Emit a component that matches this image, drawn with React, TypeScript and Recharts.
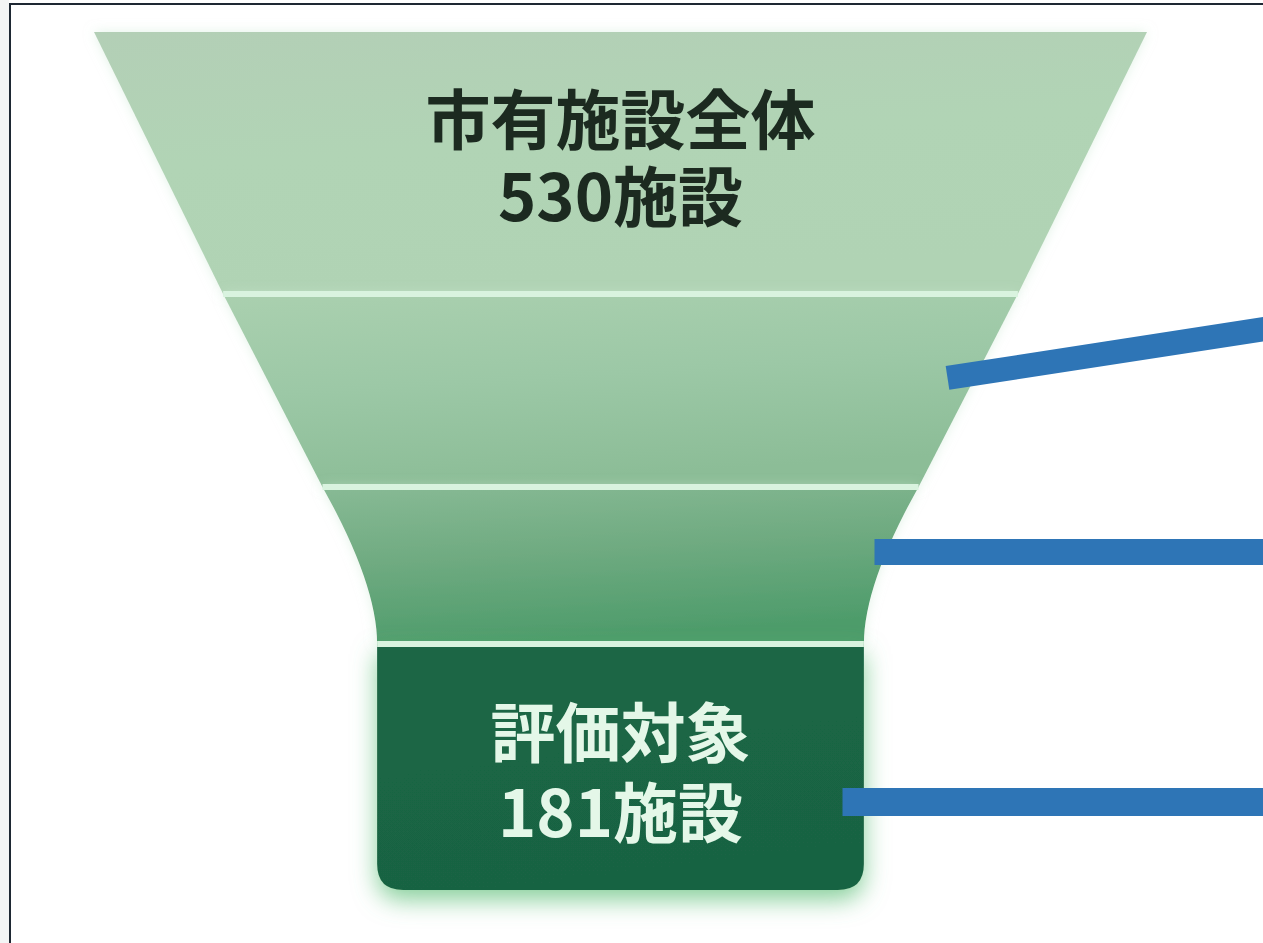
import React from 'react';
import { FunnelChart, Funnel } from 'recharts';

// ---- data ----
const layerKeys = ['all', 'step2', 'step3', 'target'];
const layerNames = ['市有施設全体', '', '', '評価対象'];
const facilityCounts: (number | null)[] = [530, null, null, 181];
// relative drawn size of each funnel layer (top layer = 530 facilities)
const funnelSizes = [530, 400, 300, 245];
// relative vertical depth of each layer
const layerDepths = [262, 193, 157, 246];

const chartData = layerKeys.map((k, i) => ({
  key: k,
  name: layerNames[i],
  value: funnelSizes[i],
  count: facilityCounts[i],
}));

// ---- styles ----
const FONT = '"Noto Sans CJK JP", "Noto Sans CJK SC", sans-serif';
const LEADER_COLOR = '#2e75b6';
const SEP_COLOR = '#d9f3df';
const layerGradients: string[][] = [
  ['#b3cfb6', '#b1d4b5', '#b0d3b4'],
  ['#aad0af', '#9cc8a6', '#8cbd97'],
  ['#88ba95', '#6eaa80', '#4e9c6b'],
  ['#1a6644', '#1a6644', '#196343'],
];
const textColors = ['#1c2a20', '', '', '#e4f7e8'];
const textNudge = [-9, 0, 0, 2];
const lineGaps = [77, 0, 0, 80];
// leader annotation: [fraction down the layer, start offset from centre, rise at right end, thickness]
const leaderStyle: ([number, number, number, number] | null)[] = [
  null,
  [0.435, 327, 49, 24],
  [0.414, 254, 0, 26],
  [0.642, 222, 0, 28],
];
const CHART_W = 1263;

const totalDepth = layerDepths.reduce((a, b) => a + b, 0);
const cumDepth = layerDepths.map((_, i) => layerDepths.slice(0, i).reduce((a, b) => a + b, 0) / totalDepth);

const FunnelLayer = (p: any) => {
  const pv = p.parentViewBox;
  const n = chartData.length;
  const idx = Math.round((p.y - pv.y) / p.height);
  const cx = p.x + p.upperWidth / 2;
  const total = p.height * n;
  const top0 = p.y - idx * p.height;
  const y0 = top0 + total * cumDepth[idx];
  const y1 = top0 + total * (cumDepth[idx] + layerDepths[idx] / totalDepth);
  const uh = p.upperWidth / 2;
  const lh = p.lowerWidth / 2;
  const h = y1 - y0;
  let d = '';
  if (idx === 3) {
    const r = 26;
    d = `M${cx - lh},${y0} H${cx + lh} V${y1 - r} Q${cx + lh},${y1} ${cx + lh - r},${y1} H${cx - lh + r} Q${cx - lh},${y1} ${cx - lh},${y1 - r} Z`;
  } else if (idx === 2) {
    const cy = y0 + h * 0.62;
    d = `M${cx - uh},${y0} H${cx + uh} Q${cx + lh},${cy} ${cx + lh},${y1} H${cx - lh} Q${cx - lh},${cy} ${cx - uh},${y0} Z`;
  } else {
    d = `M${cx - uh},${y0} H${cx + uh} L${cx + lh},${y1} H${cx - lh} Z`;
  }
  const g = layerGradients[idx];
  const gid = `layerGrad${idx}`;
  const fid = `layerGlow${idx}`;
  const name = p.payload?.name ?? p.name;
  const count = p.payload?.count ?? p.count;
  const ty = (y0 + y1) / 2 + textNudge[idx];
  const gap = lineGaps[idx];
  const leader = leaderStyle[idx];
  return (
    <g>
      <defs>
        <linearGradient id={gid} x1="0" y1="0" x2="0.25" y2="1">
          <stop offset="0%" stopColor={g[0]} />
          <stop offset="50%" stopColor={g[1]} />
          <stop offset="100%" stopColor={g[2]} />
        </linearGradient>
        <filter id={fid} x="-20%" y="-20%" width="140%" height="160%">
          <feDropShadow dx="0" dy={idx === 3 ? 10 : 0} stdDeviation={idx === 3 ? 12 : 6} floodColor={idx === 3 ? '#5fbf7a' : '#cfead5'} floodOpacity={idx === 3 ? 0.75 : 0.6} />
        </filter>
      </defs>
      <path d={d} fill={`url(#${gid})`} filter={`url(#${fid})`} />
      {idx > 0 && (
        <rect x={cx - uh} y={y0 - 3} width={uh * 2} height={6} fill={SEP_COLOR} />
      )}
      {name && (
        <text textAnchor="middle" dominantBaseline="central" fontFamily={FONT} fontWeight={700} fontSize={65} fill={textColors[idx]}>
          <tspan x={cx} y={ty - gap / 2}>{name}</tspan>
          {count != null && <tspan x={cx} y={ty + gap / 2}>{`${count}施設`}</tspan>}
        </text>
      )}
      {leader && (
        <line
          x1={cx + leader[1]}
          y1={y0 + h * leader[0]}
          x2={CHART_W + 2}
          y2={y0 + h * leader[0] - leader[2]}
          stroke={LEADER_COLOR}
          strokeWidth={leader[3]}
        />
      )}
    </g>
  );
};

export default function App() {
  return (
    <div style={{ position: 'absolute', left: 0, top: 0, width: 1263, height: 943, background: '#ffffff', overflow: 'hidden' }}>
      <div style={{ position: 'absolute', left: 0, top: 0, width: 9, height: 943, background: '#f3f5f5' }} />
      <div style={{ position: 'absolute', left: 0, top: 0 }}>
        <FunnelChart width={1263} height={943} margin={{ top: 32, right: 116, bottom: 53, left: 94 }}>
          <Funnel
            dataKey="value"
            nameKey="name"
            data={chartData}
            isAnimationActive={false}
            lastShapeType="rectangle"
            shape={FunnelLayer}
          />
        </FunnelChart>
      </div>
      <div style={{ position: 'absolute', left: 9, top: 3, width: 1254, height: 940, borderLeft: '2px solid #1e2833', borderTop: '2px solid #1e2833', boxSizing: 'border-box', pointerEvents: 'none' }} />
    </div>
  );
}
